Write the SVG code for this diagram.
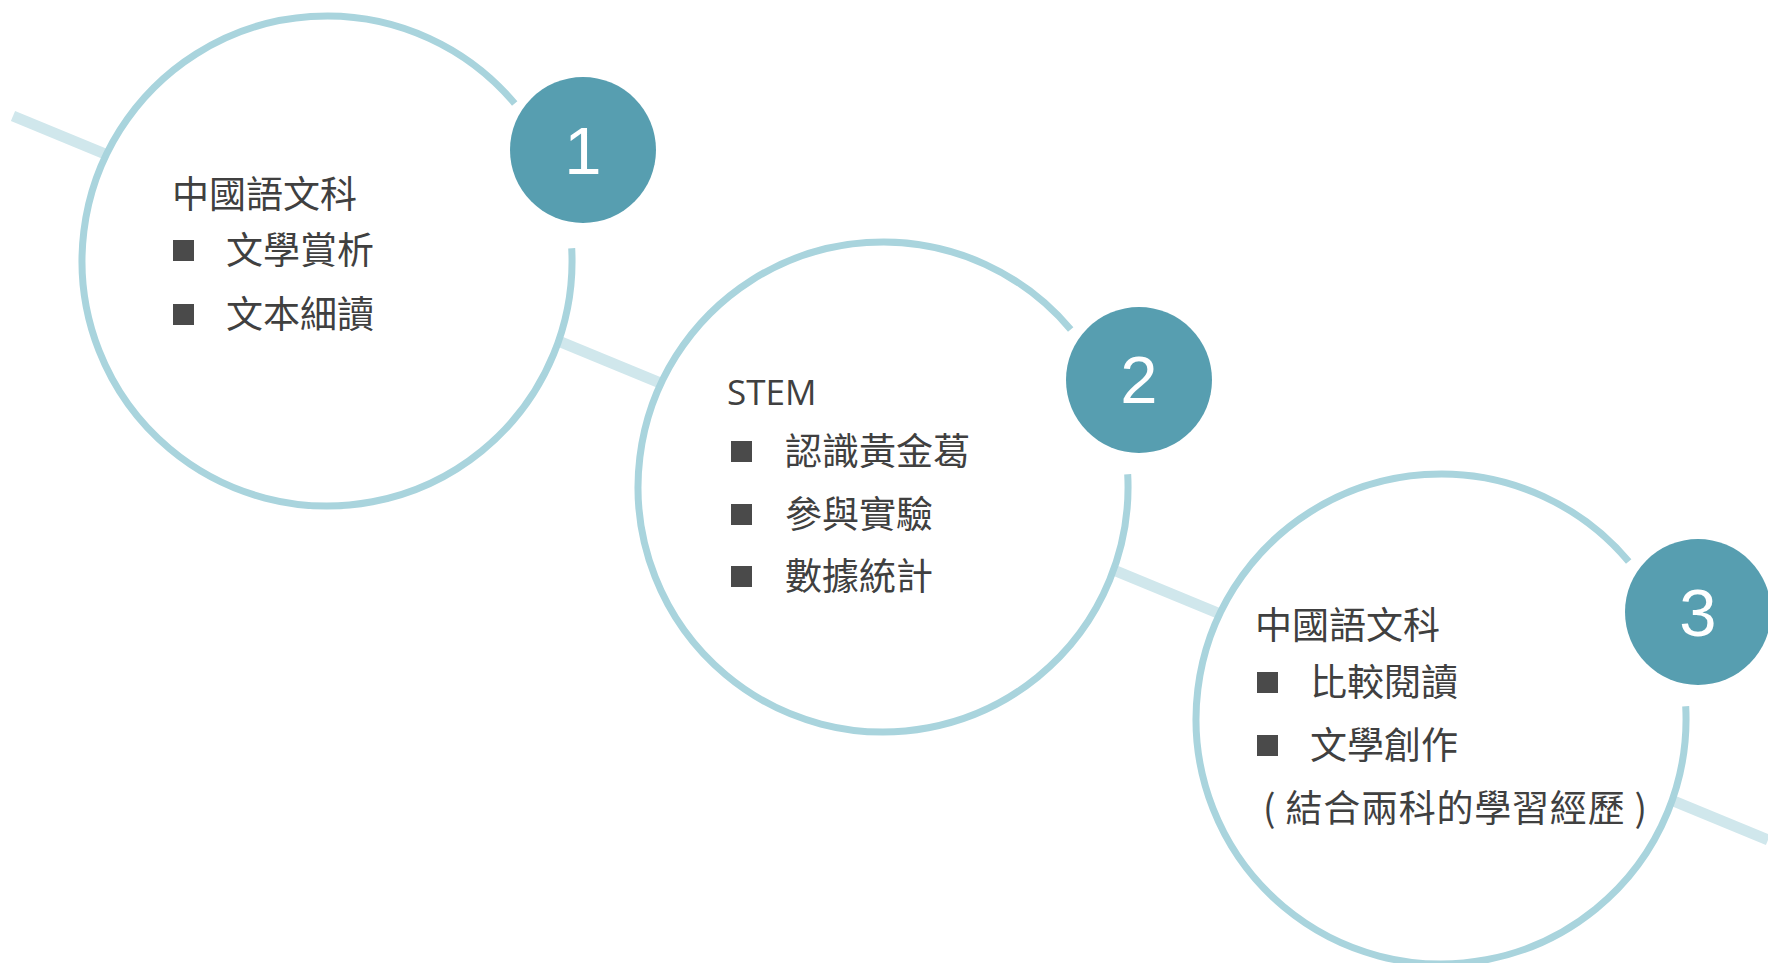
<svg xmlns="http://www.w3.org/2000/svg" width="1768" height="963" viewBox="0 0 1768 963">
<style>
.ring{fill:none;stroke:#a9d4dd;stroke-width:7}
.disc{fill:#ffffff;stroke:none}
.badge{fill:#579eb0}
.num{font-family:"Liberation Sans",Arial,sans-serif;font-size:67px;fill:#ffffff;text-anchor:middle}
.t{font-family:"Noto Sans CJK TC","Noto Sans",sans-serif;font-size:37px;fill:#404040}
.lat{font-family:"Open Sans","Noto Sans",sans-serif;font-size:35px;fill:#404040}
.sq{fill:#4a4a4a}
.link{stroke:#d0e7ec;stroke-width:11;fill:none}
</style>
<rect width="1768" height="963" fill="#ffffff"/>
<g id="connectors">
<line class="link" x1="13" y1="116" x2="1768" y2="840"/>
</g>
<g id="node1">
<circle class="disc" cx="327" cy="261" r="245"/>
<path class="ring" d="M571.7,248.2 A245,245 0 1 1 514.7,103.5"/>
<circle class="badge" cx="583" cy="150" r="73"/>
<text class="num" x="583" y="174">1</text>
<text class="t" x="172" y="208">中國語文科</text>
<rect class="sq" x="173" y="240" width="21" height="21"/>
<text class="t" x="226" y="264">文學賞析</text>
<rect class="sq" x="173" y="304" width="21" height="21"/>
<text class="t" x="226" y="328">文本細讀</text>
</g>
<g id="node2">
<circle class="disc" cx="883" cy="487" r="244"/>
<path class="ring" d="M1127.7,474.2 A245,245 0 1 1 1070.7,329.5"/>
<circle class="badge" cx="1139" cy="380" r="73"/>
<text class="num" x="1139" y="403">2</text>
<text class="lat" x="727" y="405">STEM</text>
<rect class="sq" x="731" y="441" width="21" height="21"/>
<text class="t" x="785" y="465">認識黃金葛</text>
<rect class="sq" x="731" y="504" width="21" height="21"/>
<text class="t" x="785" y="528">參與實驗</text>
<rect class="sq" x="731" y="566" width="21" height="21"/>
<text class="t" x="785" y="590">數據統計</text>
</g>
<g id="node3">
<circle class="disc" cx="1441" cy="719" r="245"/>
<path class="ring" d="M1685.7,706.2 A245,245 0 1 1 1628.7,561.5"/>
<circle class="badge" cx="1698" cy="612" r="73"/>
<text class="num" x="1698" y="636">3</text>
<text class="t" x="1255" y="639">中國語文科</text>
<rect class="sq" x="1257" y="672" width="21" height="21"/>
<text class="t" x="1310" y="696">比較閱讀</text>
<rect class="sq" x="1257" y="735" width="21" height="21"/>
<text class="t" x="1310" y="759">文學創作</text>
<text class="t" x="1263" y="822" textLength="384" lengthAdjust="spacing">( 結合兩科的學習經歷 )</text>
</g>
</svg>
